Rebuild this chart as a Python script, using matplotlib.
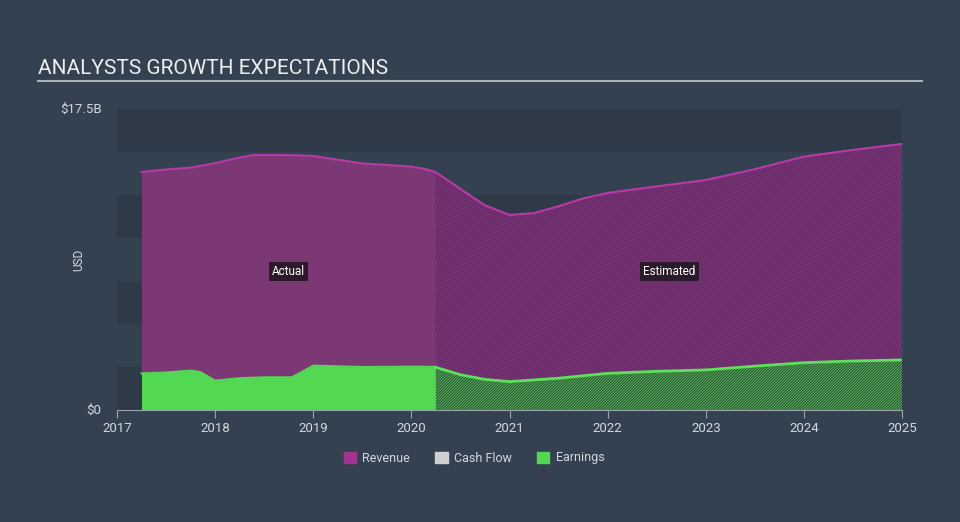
import matplotlib.pyplot as plt
from matplotlib.patches import Patch

plt.rcParams['font.family'] = ['Roboto', 'DejaVu Sans']
plt.rcParams['hatch.linewidth'] = 0.6

# revenue, $B
rev_act_x = [2017.25, 2017.5, 2017.75, 2018.0, 2018.25, 2018.4, 2018.75, 2019.0,
             2019.25, 2019.5, 2019.75, 2020.0, 2020.15, 2020.25]
rev_act_y = [13.84, 13.98, 14.09, 14.35, 14.68, 14.83, 14.82, 14.77,
             14.55, 14.33, 14.25, 14.15, 14.0, 13.82]
rev_est_x = [2020.25, 2020.5, 2020.75, 2021.0, 2021.25, 2021.5, 2021.75, 2022.0,
             2022.5, 2023.0, 2023.5, 2024.0, 2024.5, 2025.0]
rev_est_y = [13.82, 12.85, 11.9, 11.34, 11.45, 11.85, 12.3, 12.62,
             13.0, 13.37, 14.0, 14.73, 15.12, 15.47]

# earnings, $B
earn_act_x = [2017.25, 2017.5, 2017.75, 2017.85, 2018.0, 2018.25, 2018.5, 2018.78,
              2018.88, 2019.0, 2019.5, 2020.0, 2020.25]
earn_act_y = [2.13, 2.18, 2.29, 2.2, 1.71, 1.85, 1.9, 1.9,
              2.2, 2.58, 2.5, 2.52, 2.51]
earn_est_x = [2020.25, 2020.5, 2020.75, 2021.0, 2021.5, 2022.0, 2022.5, 2023.0,
              2023.5, 2024.0, 2024.5, 2025.0]
earn_est_y = [2.48, 2.05, 1.78, 1.65, 1.85, 2.13, 2.25, 2.33,
              2.55, 2.75, 2.85, 2.91]

years = list(range(2017, 2026))

bg = '#334151'
band = '#2e3a48'
txt = '#d4d8dc'
rev_fill = '#7b3874'
rev_line = '#b83aa6'
green = '#52d853'

fig = plt.figure(figsize=(9.6, 5.22), dpi=100, facecolor=bg)
ax = fig.add_axes([117 / 960, 112 / 522, 785 / 960, 301 / 522])
ax.set_facecolor(bg)

# alternating background bands
step = 17.5 / 7
for i in range(0, 7, 2):
    ax.axhspan(i * step, (i + 1) * step, color=band, lw=0, zorder=0)

# actual
ax.fill_between(rev_act_x, rev_act_y, color=rev_fill, lw=0, zorder=1)
ax.plot(rev_act_x, rev_act_y, color=rev_line, lw=1.5, zorder=3)
ax.fill_between(earn_act_x, earn_act_y, color=green, lw=0, zorder=2)
ax.plot(earn_act_x, earn_act_y, color=green, lw=1.5, zorder=3)

# estimated (hatched)
ax.fill_between(rev_est_x, rev_est_y, facecolor='#4a2a4e', edgecolor='#a2379a',
                hatch='/' * 12, lw=0, zorder=1)
ax.plot(rev_est_x, rev_est_y, color=rev_line, lw=1.5, zorder=3)
ax.fill_between(earn_est_x, earn_est_y, facecolor='#2f4a3a', edgecolor='#55c955',
                hatch='/' * 12, lw=0, zorder=2)
ax.plot(earn_est_x, earn_est_y, color='#5ee05a', lw=2, zorder=3)

box = dict(boxstyle='square,pad=0.25', fc='#2b1a2c', ec='none')
ax.text(2018.75, 8.05, 'Actual', color='white', fontsize=8.5, ha='center', va='center', bbox=box, zorder=5)
ax.text(2022.63, 8.05, 'Estimated', color='white', fontsize=8.5, ha='center', va='center', bbox=box, zorder=5)

ax.set_xlim(2017, 2025)
ax.set_ylim(0, 17.5)
ax.set_xticks(years)
ax.set_xticklabels([str(y) for y in years])
ax.set_yticks([0, 17.5])
ax.set_yticklabels(['$0', '$17.5B'])
ax.set_ylabel('USD', color=txt, fontsize=8.5)
ax.yaxis.set_label_coords(-0.041, 0.5)

for s in ['top', 'right', 'left']:
    ax.spines[s].set_visible(False)
ax.spines['bottom'].set_color('#9aa5b0')
ax.tick_params(axis='x', colors='#9aa5b0', labelcolor=txt, labelsize=9.5, length=6, pad=3)
ax.tick_params(axis='y', length=0, labelcolor=txt, labelsize=9.5, pad=11)
for lbl in ax.get_yticklabels():
    lbl.set_va('center')

# title and underline
fig.text(38 / 960, 1 - 68 / 522, 'ANALYSTS GROWTH EXPECTATIONS', color='#eceef0',
         fontsize=15, va='center', ha='left')
fig.add_artist(plt.Line2D([38 / 960, 922 / 960], [1 - 81 / 522, 1 - 81 / 522],
                          color='#a8b0b8', lw=1.5))

handles = [Patch(color='#a4338f', label='Revenue'),
           Patch(color='#d0d0d0', label='Cash Flow'),
           Patch(color=green, label='Earnings')]
leg = fig.legend(handles=handles, loc='center', bbox_to_anchor=(474 / 960, 1 - 458 / 522), ncol=3,
                 frameon=False, handlelength=1.0, handleheight=1.0, handletextpad=0.5,
                 columnspacing=2.0, fontsize=9)
for t in leg.get_texts():
    t.set_color(txt)

fig.savefig('out.png', dpi=100, facecolor=bg)
